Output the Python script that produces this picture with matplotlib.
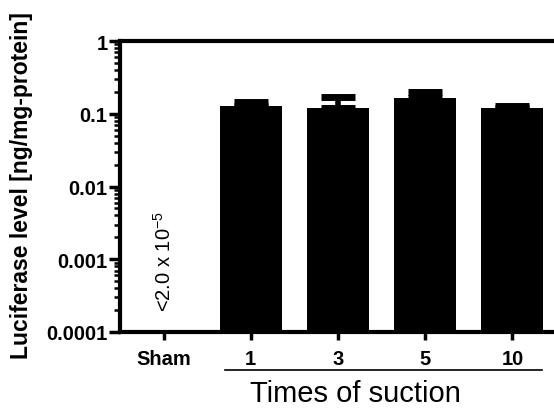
import numpy as np
import matplotlib
matplotlib.use("Agg")
import matplotlib.pyplot as plt
from matplotlib.ticker import LogLocator, NullFormatter, FixedLocator

plt.rcParams['font.family'] = ['Liberation Sans', 'DejaVu Sans']
plt.rcParams['mathtext.default'] = 'regular'

categories = ["Sham", "1", "3", "5", "10"]
means = [2.0e-5, 0.128, 0.120, 0.165, 0.120]
errs = [0.0, 0.017, 0.050, 0.034, 0.008]
ytick_vals = [0.0001, 0.001, 0.01, 0.1, 1]
ytick_labels = ["0.0001", "0.001", "0.01", "0.1", "1"]

fig = plt.figure(figsize=(5.54, 4.10), dpi=100)
ax = fig.add_axes([120 / 554, 77 / 410, 436 / 554, 291 / 410])

x = np.arange(len(categories))
# sham is below detection, only the measured groups get drawn as bars
ax.bar(x[1:], means[1:], width=0.71, color="black", bottom=1e-6, zorder=2)
ax.errorbar(x[1:], means[1:], yerr=[np.zeros(4), errs[1:]], fmt="none",
            ecolor="black", elinewidth=4, capsize=12, capthick=5, zorder=1)

ax.set_yscale("log")
ax.set_ylim(1e-4, 1)
ax.set_xlim(-0.5, 4.5)
ax.yaxis.set_major_locator(FixedLocator(ytick_vals))
ax.set_yticklabels(ytick_labels, fontsize=14.5, fontweight="bold")
ax.yaxis.set_minor_locator(LogLocator(base=10, subs=np.arange(2, 10)))
ax.yaxis.set_minor_formatter(NullFormatter())
ax.set_xticks(x)
ax.set_xticklabels(categories, fontsize=14.5, fontweight="bold")

ax.tick_params(axis="y", which="major", length=8, width=2.5, pad=1)
ax.tick_params(axis="y", which="minor", length=4, width=1.8)
ax.tick_params(axis="x", which="major", length=6, width=2.5, pad=6)

for s in ["left", "top", "bottom"]:
    ax.spines[s].set_linewidth(3)
ax.spines["right"].set_visible(False)

ax.set_ylabel("Luciferase level [ng/mg-protein]", fontsize=16.5,
              fontweight="bold")
ax.yaxis.set_label_coords(-0.2, 0.505)

ax.text(0, 9.5e-4, r"<2.0 x 10$^{-5}$", rotation=90, ha="center",
        va="center", fontsize=14.5)

# bracket under the suction groups
fig.add_artist(plt.Line2D([225 / 554, 542 / 554], [1 - 371 / 410, 1 - 371 / 410],
                          color="black", lw=1.2))
fig.text(355 / 554, 1 - 394 / 410, "Times of suction", ha="center",
         va="center", fontsize=21)

fig.savefig("out.png", dpi=100)
